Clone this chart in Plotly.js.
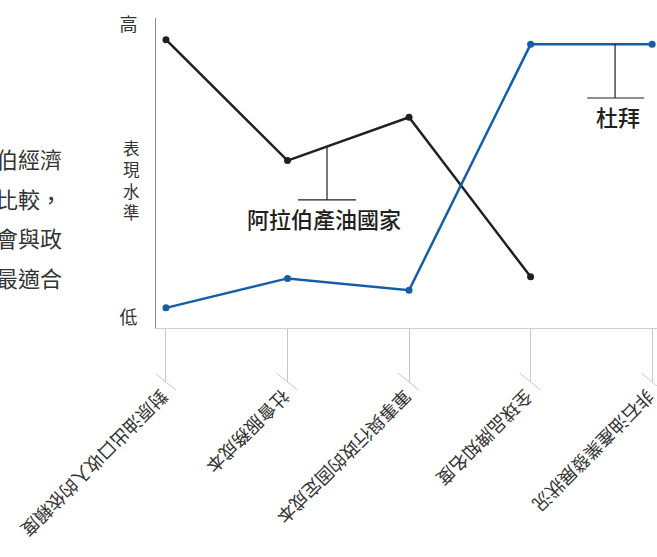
<!DOCTYPE html>
<html>
<head>
<meta charset="utf-8">
<script src="https://cdn.plot.ly/plotly-3.0.1.min.js"></script>
<style>
html,body{margin:0;padding:0;background:#fff;}
#chart{width:657px;height:557px;}
</style>
</head>
<body>
<div id="chart"></div>
<script>
// ---- data ----
var categories = [
  "對原油出口收入的依賴度",
  "社會服務成本",
  "軍事與行政的固定成本",
  "全球品牌知名度",
  "非石油產業發展狀況"
];
var arabValues  = [9.3, 5.4, 6.8, 1.65, null];
var dubaiValues = [0.65, 1.6, 1.22, 9.15, 9.15];
var arabName = "阿拉伯產油國家";
var dubaiName = "杜拜";
var yTickVals = [0.32, 9.8];
var yTickText = ["低", "高"];
var yTitleChars = "表現水準";
var sideText = ["伯經濟", "比較，", "會與政", "最適合"];

var FONT = '"Noto Sans CJK TC", "Noto Sans CJK SC", sans-serif';
var BLACK = '#231f20';
var BLUE = '#145ea6';

var traces = [
  {
    x: categories, y: arabValues, type: 'scatter', mode: 'lines+markers',
    name: arabName, line: {color: BLACK, width: 2.5},
    marker: {color: BLACK, size: 7}, cliponaxis: false, hoverinfo: 'skip'
  },
  {
    x: categories, y: dubaiValues, type: 'scatter', mode: 'lines+markers',
    name: dubaiName, line: {color: BLUE, width: 2.5},
    marker: {color: BLUE, size: 7}, cliponaxis: false, hoverinfo: 'skip'
  }
];

var shapes = [];
// small diagonal caps at the end of each long tick
categories.forEach(function(c, i){
  shapes.push({
    type: 'line', xref: 'x', yref: 'paper',
    xsizemode: 'pixel', xanchor: i, x0: -11, x1: 10,
    ysizemode: 'pixel', yanchor: 0, y0: -45, y1: -62,
    line: {color: '#c8c8c8', width: 1}
  });
});
// leader for Arab label
shapes.push({type:'line', xref:'x', yref:'y', x0:1.325, x1:1.325, y0:5.87, y1:4.13, line:{color:BLACK, width:1.2}});
shapes.push({type:'line', xref:'x', yref:'y', x0:1.086, x1:1.564, y0:4.13, y1:4.13, line:{color:BLACK, width:1.2}});
// leader for Dubai label
shapes.push({type:'line', xref:'x', yref:'y', x0:3.695, x1:3.695, y0:9.15, y1:7.42, line:{color:BLACK, width:1.2}});
shapes.push({type:'line', xref:'x', yref:'y', x0:3.465, x1:3.934, y0:7.42, y1:7.42, line:{color:BLACK, width:1.2}});

var annotations = [
  {xref:'x', yref:'y', x:1.3, y:3.55, text:arabName, showarrow:false,
   font:{family:FONT, size:22, color:BLACK, weight:500}},
  {xref:'x', yref:'y', x:3.72, y:6.84, text:dubaiName, showarrow:false,
   font:{family:FONT, size:22, color:BLACK, weight:500}},
  // vertical axis title, one character per line
  {xref:'paper', yref:'paper', x:0, y:(328 - 180) / 310,
   xanchor:'center', yanchor:'middle', xshift:-25,
   text: yTitleChars.split('').join('<br>'), showarrow:false,
   font:{family:FONT, size:16.5, color:'#333'}}
];
// clipped side paragraph
var sideY = [158, 197.5, 237, 277];
sideText.forEach(function(t, i){
  annotations.push({
    xref:'paper', yref:'paper', x:0, y:(328 - sideY[i]) / 310,
    xanchor:'right', yanchor:'middle', xshift:-92,
    text: t, showarrow:false, align:'right',
    font:{family:FONT, size:22, color:'#333'}
  });
});

var layout = {
  width: 657, height: 557,
  margin: {l:156, r:0, t:18, b:229, pad:0},
  paper_bgcolor: '#fff', plot_bgcolor: '#fff',
  showlegend: false,
  font: {family: FONT, color: '#333'},
  xaxis: {
    type: 'category', range: [-0.082, 4.04], fixedrange: true,
    showline: true, linecolor: '#cfcfcf', linewidth: 1,
    showgrid: false, zeroline: false,
    ticks: 'outside', ticklen: 53, tickcolor: '#c8c8c8', tickwidth: 1,
    tickangle: 135, tickfont: {family: FONT, size: 18, color: '#333'},
    automargin: false
  },
  yaxis: {
    range: [0, 10], fixedrange: true,
    showline: true, linecolor: '#8c8c8c', linewidth: 1,
    showgrid: false, zeroline: false, ticks: '',
    tickvals: yTickVals, ticktext: yTickText,
    ticklabelstandoff: 14,
    tickfont: {family: FONT, size: 18, color: '#333'},
    automargin: false
  },
  shapes: shapes,
  annotations: annotations
};

Plotly.newPlot('chart', traces, layout, {staticPlot: true, displayModeBar: false});
</script>
</body>
</html>
